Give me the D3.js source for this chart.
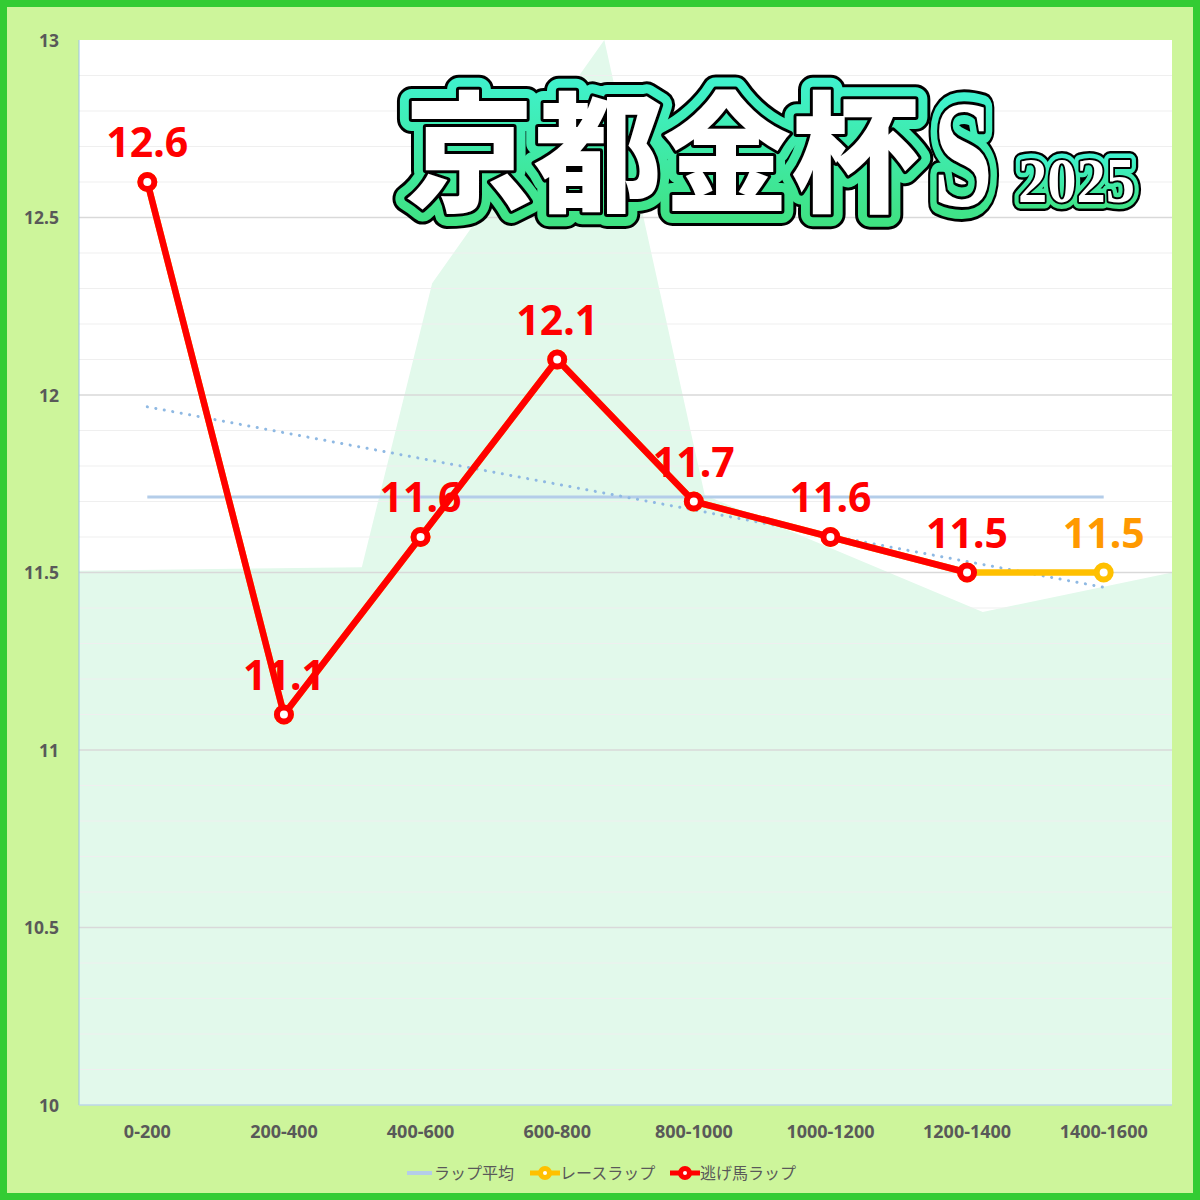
<!DOCTYPE html>
<html><head><meta charset="utf-8">
<script src="https://cdn.jsdelivr.net/npm/d3@7"></script>
<style>
html,body{margin:0;padding:0;background:#fff;}
svg{display:block;}
</style></head>
<body>
<svg id="chart" width="1200" height="1200"></svg>
<script>
// ---- data ----
const categories = ["0-200","200-400","400-600","600-800","800-1000","1000-1200","1200-1400","1400-1600"];
const raceLap = [12.6,11.1,11.6,12.1,11.7,11.6,11.5,11.5];
const leaderLap = [12.6,11.1,11.6,12.1,11.7,11.6,11.5];
const yTicks = [10,10.5,11,11.5,12,12.5,13];
// background area profile: distance (m) and value
const areaDist = [0,414,517,769,916,1323,1600];
const areaVal  = [11.505,11.515,12.315,13.0,11.718,11.389,11.5];
const legendLabels = ["ラップ平均","レースラップ","逃げ馬ラップ"];
const titleMain = "京都金杯";
const titleS = "S";
const titleYear = "2025";

const svg = d3.select("#chart");
const W = 1200, H = 1200;
const plot = {l:79, r:1172, t:40, b:1105};

// background and border
svg.append("rect").attr("x",0).attr("y",0).attr("width",W).attr("height",H).attr("fill","#cdf59b");
svg.append("rect").attr("x",3.5).attr("y",3.5).attr("width",W-7).attr("height",H-7)
  .attr("fill","none").attr("stroke","#33cc33").attr("stroke-width",7);

const x = d3.scaleBand().domain(categories).range([plot.l, plot.r]).padding(0);
const cx = c => x(c) + x.bandwidth()/2;
const y = d3.scaleLinear().domain([10,13]).range([plot.b, plot.t]);
const xd = d3.scaleLinear().domain([0,1600]).range([plot.l, plot.r]);

const defs = svg.append("defs");
defs.append("clipPath").attr("id","clip").append("rect")
  .attr("x",plot.l).attr("y",plot.t).attr("width",plot.r-plot.l).attr("height",plot.b-plot.t);
const grad = defs.append("linearGradient").attr("id","tg").attr("x1",0).attr("y1",0).attr("x2",0).attr("y2",1);
grad.append("stop").attr("offset","0%").attr("stop-color","#3ff5dc");
grad.append("stop").attr("offset","100%").attr("stop-color","#3fe07a");

// plot background
svg.append("rect").attr("x",plot.l).attr("y",plot.t).attr("width",plot.r-plot.l).attr("height",plot.b-plot.t).attr("fill","#ffffff");

// area
const areaData = areaDist.map((d,i)=>({d, v:areaVal[i]}));
svg.append("path").datum(areaData).attr("clip-path","url(#clip)")
  .attr("fill","#e2f9eb")
  .attr("d", d3.area().x(p=>xd(p.d)).y0(plot.b).y1(p=>y(p.v)));

// gridlines
const minor = d3.range(100,131).map(v=>v/10).filter(v=>Math.abs(v*2-Math.round(v*2))>1e-6);
svg.append("g").selectAll("line").data(minor).join("line")
  .attr("x1",plot.l).attr("x2",plot.r).attr("y1",d=>y(d)).attr("y2",d=>y(d))
  .attr("stroke","#efefef").attr("stroke-width",1);
svg.append("g").selectAll("line").data(yTicks.filter(v=>v>10&&v<13)).join("line")
  .attr("x1",plot.l).attr("x2",plot.r).attr("y1",d=>y(d)).attr("y2",d=>y(d))
  .attr("stroke","#d9d9d9").attr("stroke-width",1.3);

// axis frame lines
svg.append("line").attr("x1",plot.l).attr("x2",plot.l).attr("y1",plot.t).attr("y2",plot.b)
  .attr("stroke","#9dc3e6").attr("stroke-width",1);
svg.append("line").attr("x1",plot.l).attr("x2",plot.r).attr("y1",plot.b).attr("y2",plot.b)
  .attr("stroke","#bcd6ea").attr("stroke-width",1.5);

// y axis labels
const yAxis = d3.axisLeft(y).tickValues(yTicks).tickSize(0).tickPadding(0).tickFormat(d3.format("~g"));
const ga = svg.append("g").attr("transform","translate(59,0)").call(yAxis);
ga.select(".domain").remove();
ga.selectAll("text").attr("font-family","'Noto Sans', sans-serif").attr("font-weight","bold")
  .attr("font-size",17.5).attr("fill","#595959").attr("dy","0.35em");

// x axis labels
const xAxis = d3.axisBottom(x).tickSize(0).tickPadding(0);
const gx = svg.append("g").attr("transform","translate(0,1132)").call(xAxis);
gx.select(".domain").remove();
gx.selectAll("text").attr("font-family","'Noto Sans', sans-serif").attr("font-weight","bold")
  .attr("font-size",18).attr("fill","#595959").attr("dy","0.35em");

// average line
const avg = d3.mean(raceLap);
svg.append("line").attr("x1",cx(categories[0])).attr("x2",cx(categories[categories.length-1]))
  .attr("y1",y(avg)).attr("y2",y(avg)).attr("stroke","#b4cde9").attr("stroke-width",3);

// trend line (linear regression of race laps)
const n = raceLap.length;
const xs = d3.range(1,n+1);
const mx = d3.mean(xs), my = d3.mean(raceLap);
const slope = d3.sum(xs.map((xi,i)=>(xi-mx)*(raceLap[i]-my))) / d3.sum(xs.map(xi=>(xi-mx)*(xi-mx)));
const icpt = my - slope*mx;
svg.append("line")
  .attr("x1",cx(categories[0])).attr("y1",y(icpt+slope*1))
  .attr("x2",cx(categories[n-1])).attr("y2",y(icpt+slope*n))
  .attr("stroke","#8fb9e3").attr("stroke-width",3).attr("stroke-linecap","round")
  .attr("stroke-dasharray","0.1 8.5");

// race lap line (orange)
const line = d3.line().x((d,i)=>cx(categories[i])).y(d=>y(d));
svg.append("path").datum(raceLap).attr("d",line).attr("fill","none")
  .attr("stroke","#ffc000").attr("stroke-width",6.5).attr("stroke-linejoin","round");
svg.append("g").selectAll("circle").data(raceLap).join("circle")
  .attr("cx",(d,i)=>cx(categories[i])).attr("cy",d=>y(d)).attr("r",7)
  .attr("fill","#fff").attr("stroke","#ffc000").attr("stroke-width",6);

// leader lap line (red)
svg.append("path").datum(leaderLap).attr("d",line).attr("fill","none")
  .attr("stroke","#ff0000").attr("stroke-width",6.5).attr("stroke-linejoin","round");
svg.append("g").selectAll("circle").data(leaderLap).join("circle")
  .attr("cx",(d,i)=>cx(categories[i])).attr("cy",d=>y(d)).attr("r",7)
  .attr("fill","#fff").attr("stroke","#ff0000").attr("stroke-width",6);

// data labels
const labelData = raceLap.map((v,i)=>({v,i,color: i<leaderLap.length ? "#ff0000" : "#ff9900"}));
svg.append("g").selectAll("text").data(labelData).join("text")
  .attr("x",d=>cx(categories[d.i])).attr("y",d=>y(d.v)-25)
  .attr("text-anchor","middle").attr("font-family","'Noto Sans', sans-serif").attr("font-weight","bold")
  .attr("font-size",41).attr("fill",d=>d.color).text(d=>d.v.toFixed(1));

// legend
const lg = svg.append("g").attr("font-family","'Noto Sans CJK JP', sans-serif").attr("font-size",16).attr("fill","#595959");
const ly = 1173;
lg.append("line").attr("x1",407).attr("x2",432).attr("y1",ly).attr("y2",ly).attr("stroke","#b4cde9").attr("stroke-width",4);
lg.append("text").attr("x",434).attr("y",ly).attr("dy","0.35em").text(legendLabels[0]);
lg.append("line").attr("x1",530).attr("x2",560).attr("y1",ly).attr("y2",ly).attr("stroke","#ffc000").attr("stroke-width",5);
lg.append("circle").attr("cx",545).attr("cy",ly).attr("r",4.5).attr("fill","#fff").attr("stroke","#ffc000").attr("stroke-width",5);
lg.append("text").attr("x",560).attr("y",ly).attr("dy","0.35em").text(legendLabels[1]);
lg.append("line").attr("x1",670).attr("x2",700).attr("y1",ly).attr("y2",ly).attr("stroke","#ff0000").attr("stroke-width",5);
lg.append("circle").attr("cx",685).attr("cy",ly).attr("r",4.5).attr("fill","#fff").attr("stroke","#ff0000").attr("stroke-width",5);
lg.append("text").attr("x",700).attr("y",ly).attr("dy","0.35em").text(legendLabels[2]);

// title with layered outline
function outlined(g, txt, attrs, widths){
  const layers = [
    {stroke:"#000", w:widths[0]},
    {stroke:"url(#tg)", w:widths[1]},
    {stroke:"#000", w:widths[2]},
  ];
  layers.forEach(L=>{
    const t = g.append("text").text(txt).attr("fill","none").attr("stroke",L.stroke)
      .attr("stroke-width",L.w).attr("stroke-linejoin","round");
    Object.entries(attrs).forEach(([k,v])=>t.attr(k,v));
  });
  const t = g.append("text").text(txt).attr("fill","#fff");
  Object.entries(attrs).forEach(([k,v])=>t.attr(k,v));
}
const tg = svg.append("g");
outlined(tg, titleMain, {x:405, y:201, "font-family":"'Noto Sans CJK JP', sans-serif", "font-weight":900,
  "font-size":130, textLength:515, lengthAdjust:"spacingAndGlyphs"}, [30,24,6]);
outlined(tg, titleS, {x:933, y:206, "font-family":"'Liberation Serif', serif", "font-weight":"bold",
  "font-size":152, textLength:60, lengthAdjust:"spacingAndGlyphs"}, [30,24,6]);
outlined(tg, titleYear, {x:1018, y:202, "font-family":"'Liberation Serif', serif", "font-weight":"bold",
  "font-size":64, textLength:117, lengthAdjust:"spacingAndGlyphs"}, [18,13,4]);
</script>
</body></html>
